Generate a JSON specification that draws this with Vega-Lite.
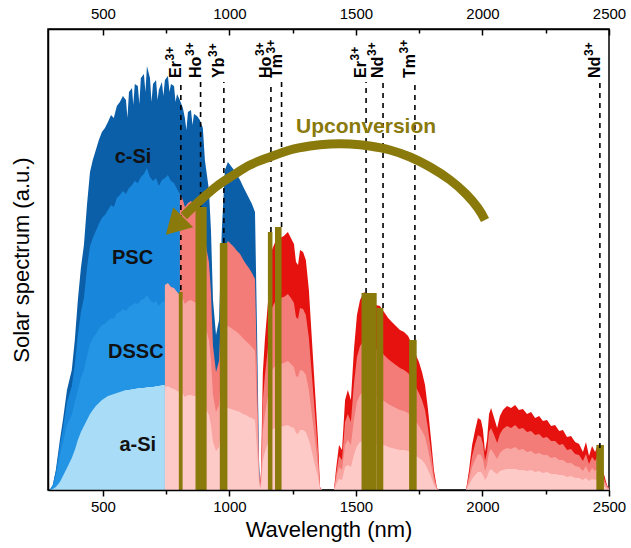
{
"$schema": "https://vega.github.io/schema/vega-lite/v6.json",
"width": 561, "height": 461,
"autosize": {"type": "none"},
"padding": {"left": 48, "top": 29, "right": 22, "bottom": 58},
"config": {"view": {"stroke": "#000", "strokeWidth": 1.5}, "font": "Liberation Sans"},
"datasets": {
"spec": [
{"wl":290,"cSi":0,"PSC":0,"DSSC":0,"aSi":0},
{"wl":302,"cSi":5,"PSC":5,"DSSC":4,"aSi":1},
{"wl":314,"cSi":20,"PSC":18,"DSSC":14,"aSi":3},
{"wl":330,"cSi":50,"PSC":45,"DSSC":35,"aSi":8},
{"wl":342,"cSi":70,"PSC":62,"DSSC":48,"aSi":14},
{"wl":358,"cSi":100,"PSC":88,"DSSC":65,"aSi":22},
{"wl":377,"cSi":120,"PSC":104,"DSSC":75,"aSi":32},
{"wl":389,"cSi":150,"PSC":125,"DSSC":88,"aSi":40},
{"wl":401,"cSi":190,"PSC":155,"DSSC":100,"aSi":50},
{"wl":413,"cSi":222,"PSC":178,"DSSC":112,"aSi":58},
{"wl":425,"cSi":245,"PSC":192,"DSSC":120,"aSi":64},
{"wl":437,"cSi":285,"PSC":222,"DSSC":134,"aSi":70},
{"wl":449,"cSi":318,"PSC":244,"DSSC":146,"aSi":76},
{"wl":460,"cSi":330,"PSC":252,"DSSC":152,"aSi":80},
{"wl":472,"cSi":340,"PSC":259,"DSSC":156,"aSi":84},
{"wl":484,"cSi":350,"PSC":266,"DSSC":161,"aSi":87},
{"wl":496,"cSi":358,"PSC":272,"DSSC":165,"aSi":90},
{"wl":508,"cSi":362,"PSC":275,"DSSC":166,"aSi":92},
{"wl":520,"cSi":368,"PSC":280,"DSSC":169,"aSi":94},
{"wl":532,"cSi":375,"PSC":285,"DSSC":172,"aSi":95},
{"wl":543,"cSi":372,"PSC":283,"DSSC":171,"aSi":96},
{"wl":555,"cSi":384,"PSC":292,"DSSC":177,"aSi":97},
{"wl":567,"cSi":388,"PSC":295,"DSSC":178,"aSi":98},
{"wl":579,"cSi":394,"PSC":299,"DSSC":181,"aSi":99},
{"wl":591,"cSi":390,"PSC":296,"DSSC":179,"aSi":100},
{"wl":603,"cSi":398,"PSC":302,"DSSC":183,"aSi":100},
{"wl":615,"cSi":402,"PSC":305,"DSSC":185,"aSi":101},
{"wl":626,"cSi":406,"PSC":309,"DSSC":187,"aSi":101},
{"wl":638,"cSi":404,"PSC":307,"DSSC":186,"aSi":102},
{"wl":650,"cSi":412,"PSC":313,"DSSC":190,"aSi":102},
{"wl":662,"cSi":416,"PSC":316,"DSSC":191,"aSi":102},
{"wl":674,"cSi":424,"PSC":322,"DSSC":195,"aSi":103},
{"wl":686,"cSi":412,"PSC":313,"DSSC":190,"aSi":103},
{"wl":698,"cSi":406,"PSC":309,"DSSC":187,"aSi":103},
{"wl":710,"cSi":410,"PSC":312,"DSSC":189,"aSi":104},
{"wl":721,"cSi":400,"PSC":304,"DSSC":184,"aSi":104},
{"wl":733,"cSi":408,"PSC":310,"DSSC":188,"aSi":105},
{"wl":745,"cSi":410,"PSC":312,"DSSC":189,"aSi":105,"p1":103,"p2":205},
{"wl":757,"cSi":414,"PSC":315,"p1":104,"p2":207},
{"wl":769,"cSi":406,"PSC":309,"p1":102,"p2":203},
{"wl":781,"cSi":404,"PSC":307,"p1":101,"p2":202},
{"wl":793,"cSi":396,"PSC":301,"p1":99,"p2":198},
{"wl":804,"cSi":390,"PSC":296,"p1":98,"p2":195,"p3":296},
{"wl":816,"cSi":382,"p1":96,"p2":191,"p3":290},
{"wl":824,"cSi":372,"p1":93,"p2":186,"p3":283},
{"wl":836,"cSi":378,"p1":95,"p2":189,"p3":287},
{"wl":848,"cSi":380,"p1":95,"p2":190,"p3":289},
{"wl":860,"cSi":376,"p1":94,"p2":188,"p3":286},
{"wl":872,"cSi":374,"p1":94,"p2":187,"p3":284},
{"wl":883,"cSi":370,"p1":93,"p2":185,"p3":281},
{"wl":895,"cSi":362,"p1":91,"p2":181,"p3":275},
{"wl":903,"cSi":330,"p1":83,"p2":165,"p3":251},
{"wl":911,"cSi":315,"p1":79,"p2":158,"p3":239},
{"wl":919,"cSi":300,"p1":75,"p2":150,"p3":228},
{"wl":927,"cSi":260,"p1":65,"p2":130,"p3":198},
{"wl":935,"cSi":190,"p1":48,"p2":95,"p3":144},
{"wl":947,"cSi":155,"p1":39,"p2":78,"p3":118},
{"wl":959,"cSi":170,"p1":43,"p2":85,"p3":129},
{"wl":970,"cSi":260,"p1":65,"p2":130,"p3":198},
{"wl":982,"cSi":320,"p1":80,"p2":160,"p3":243},
{"wl":994,"cSi":328,"p1":82,"p2":164,"p3":249},
{"wl":1006,"cSi":324,"p1":81,"p2":162,"p3":246},
{"wl":1018,"cSi":320,"p1":80,"p2":160,"p3":243},
{"wl":1030,"cSi":315,"p1":79,"p2":158,"p3":239},
{"wl":1042,"cSi":310,"p1":78,"p2":155,"p3":236},
{"wl":1053,"cSi":304,"p1":76,"p2":152,"p3":231},
{"wl":1065,"cSi":298,"p1":75,"p2":149,"p3":226},
{"wl":1077,"cSi":292,"p1":73,"p2":146,"p3":222},
{"wl":1089,"cSi":286,"p1":72,"p2":143,"p3":217},
{"wl":1101,"cSi":278,"p1":70,"p2":139,"p3":211},
{"wl":1109,"cSi":160,"p1":40,"p2":80,"p3":122},
{"wl":1117,"cSi":30,"p1":8,"p2":15,"p3":23},
{"wl":1121,"cSi":5,"red":5,"p1":1,"p2":3,"p3":4},
{"wl":1125,"red":20,"p1":5,"p2":10,"p3":15},
{"wl":1132,"red":117,"p1":29,"p2":59,"p3":89},
{"wl":1140,"red":150,"p1":38,"p2":75,"p3":114},
{"wl":1152,"red":187,"p1":47,"p2":94,"p3":142},
{"wl":1168,"red":240,"p1":60,"p2":120,"p3":182},
{"wl":1184,"red":250,"p1":63,"p2":125,"p3":190},
{"wl":1200,"red":252,"p1":63,"p2":126,"p3":192},
{"wl":1215,"red":254,"p1":64,"p2":127,"p3":193},
{"wl":1231,"red":258,"p1":65,"p2":129,"p3":196},
{"wl":1243,"red":252,"p1":63,"p2":126,"p3":192},
{"wl":1255,"red":246,"p1":62,"p2":123,"p3":187},
{"wl":1263,"red":228,"p1":57,"p2":114,"p3":173},
{"wl":1271,"red":225,"p1":56,"p2":113,"p3":171},
{"wl":1279,"red":240,"p1":60,"p2":120,"p3":182},
{"wl":1291,"red":238,"p1":60,"p2":119,"p3":181},
{"wl":1302,"red":230,"p1":58,"p2":115,"p3":175},
{"wl":1314,"red":200,"p1":50,"p2":100,"p3":152},
{"wl":1326,"red":150,"p1":38,"p2":75,"p3":114},
{"wl":1338,"red":100,"p1":25,"p2":50,"p3":76},
{"wl":1350,"red":50,"p1":13,"p2":25,"p3":38},
{"wl":1358,"red":3,"p1":1,"p2":2,"p3":2},
{"wl":1366,"red":0,"p1":0,"p2":0,"p3":0},
{"wl":1413,"red":0,"p1":0,"p2":0,"p3":0},
{"wl":1421,"red":20,"p1":5,"p2":10,"p3":15},
{"wl":1433,"red":45,"p1":11,"p2":23,"p3":34},
{"wl":1445,"red":40,"p1":10,"p2":20,"p3":30},
{"wl":1457,"red":90,"p1":23,"p2":45,"p3":68},
{"wl":1468,"red":100,"p1":25,"p2":50,"p3":76},
{"wl":1480,"red":90,"p1":23,"p2":45,"p3":68},
{"wl":1492,"red":140,"p1":35,"p2":70,"p3":106},
{"wl":1504,"red":175,"p1":44,"p2":88,"p3":133},
{"wl":1516,"red":190,"p1":48,"p2":95,"p3":144},
{"wl":1532,"red":198,"p1":50,"p2":99,"p3":150},
{"wl":1548,"red":194,"p1":49,"p2":97,"p3":147},
{"wl":1563,"red":190,"p1":48,"p2":95,"p3":144},
{"wl":1579,"red":185,"p1":46,"p2":93,"p3":141},
{"wl":1595,"red":184,"p1":46,"p2":92,"p3":140},
{"wl":1611,"red":178,"p1":45,"p2":89,"p3":135},
{"wl":1627,"red":172,"p1":43,"p2":86,"p3":131},
{"wl":1642,"red":168,"p1":42,"p2":84,"p3":128},
{"wl":1658,"red":164,"p1":41,"p2":82,"p3":125},
{"wl":1674,"red":160,"p1":40,"p2":80,"p3":122},
{"wl":1690,"red":158,"p1":40,"p2":79,"p3":120},
{"wl":1706,"red":154,"p1":39,"p2":77,"p3":117},
{"wl":1721,"red":146,"p1":37,"p2":73,"p3":111},
{"wl":1737,"red":135,"p1":34,"p2":68,"p3":103},
{"wl":1749,"red":128,"p1":32,"p2":64,"p3":97},
{"wl":1761,"red":118,"p1":30,"p2":59,"p3":90},
{"wl":1773,"red":105,"p1":26,"p2":53,"p3":80},
{"wl":1785,"red":80,"p1":20,"p2":40,"p3":61},
{"wl":1797,"red":50,"p1":13,"p2":25,"p3":38},
{"wl":1808,"red":20,"p1":5,"p2":10,"p3":15},
{"wl":1820,"red":2,"p1":1,"p2":1,"p3":2},
{"wl":1828,"red":0,"p1":0,"p2":0,"p3":0},
{"wl":1935,"red":0,"p1":0,"p2":0,"p3":0},
{"wl":1947,"red":20,"p1":5,"p2":10,"p3":15},
{"wl":1959,"red":45,"p1":11,"p2":23,"p3":34},
{"wl":1971,"red":60,"p1":15,"p2":30,"p3":46},
{"wl":1982,"red":72,"p1":18,"p2":36,"p3":55},
{"wl":1994,"red":70,"p1":18,"p2":35,"p3":53},
{"wl":2002,"red":60,"p1":15,"p2":30,"p3":46},
{"wl":2010,"red":38,"p1":10,"p2":19,"p3":29},
{"wl":2018,"red":50,"p1":13,"p2":25,"p3":38},
{"wl":2026,"red":76,"p1":19,"p2":38,"p3":58},
{"wl":2034,"red":82,"p1":21,"p2":41,"p3":62},
{"wl":2046,"red":72,"p1":18,"p2":36,"p3":55},
{"wl":2058,"red":62,"p1":16,"p2":31,"p3":47},
{"wl":2069,"red":74,"p1":19,"p2":37,"p3":56},
{"wl":2081,"red":80,"p1":20,"p2":40,"p3":61},
{"wl":2097,"red":84,"p1":21,"p2":42,"p3":64},
{"wl":2113,"red":82,"p1":21,"p2":41,"p3":62},
{"wl":2129,"red":85,"p1":21,"p2":43,"p3":65},
{"wl":2144,"red":80,"p1":20,"p2":40,"p3":61},
{"wl":2160,"red":81,"p1":20,"p2":41,"p3":62},
{"wl":2176,"red":76,"p1":19,"p2":38,"p3":58},
{"wl":2192,"red":78,"p1":20,"p2":39,"p3":59},
{"wl":2208,"red":72,"p1":18,"p2":36,"p3":55},
{"wl":2224,"red":74,"p1":19,"p2":37,"p3":56},
{"wl":2239,"red":69,"p1":17,"p2":35,"p3":52},
{"wl":2255,"red":70,"p1":18,"p2":35,"p3":53},
{"wl":2271,"red":64,"p1":16,"p2":32,"p3":49},
{"wl":2287,"red":65,"p1":16,"p2":33,"p3":49},
{"wl":2303,"red":59,"p1":15,"p2":30,"p3":45},
{"wl":2318,"red":60,"p1":15,"p2":30,"p3":46},
{"wl":2334,"red":53,"p1":13,"p2":27,"p3":40},
{"wl":2350,"red":54,"p1":14,"p2":27,"p3":41},
{"wl":2366,"red":48,"p1":12,"p2":24,"p3":36},
{"wl":2382,"red":46,"p1":12,"p2":23,"p3":35},
{"wl":2397,"red":38,"p1":10,"p2":19,"p3":29},
{"wl":2409,"red":48,"p1":12,"p2":24,"p3":36},
{"wl":2421,"red":34,"p1":9,"p2":17,"p3":26},
{"wl":2433,"red":44,"p1":11,"p2":22,"p3":33},
{"wl":2445,"red":38,"p1":10,"p2":19,"p3":29},
{"wl":2457,"red":46,"p1":12,"p2":23,"p3":35},
{"wl":2469,"red":30,"p1":8,"p2":15,"p3":23},
{"wl":2480,"red":16,"p1":4,"p2":8,"p3":12},
{"wl":2492,"red":5,"p1":1,"p2":3,"p3":4},
{"wl":2500,"red":2,"p1":1,"p2":1,"p3":2},
{"wl":597,"cSi":372},
{"wl":620,"cSi":385},
{"wl":644,"cSi":386},
{"wl":668,"cSi":398},
{"wl":692,"cSi":388},
{"wl":716,"cSi":390},
{"wl":739,"cSi":394},
{"wl":763,"cSi":398},
{"wl":787,"cSi":388},
{"wl":830,"cSi":360},
{"wl":854,"cSi":365}
],
"bands": [
{"a":800,"b":815,"top":198},
{"a":866,"b":910,"top":283},
{"a":962,"b":992,"top":247},
{"a":1152,"b":1170,"top":258},
{"a":1180,"b":1206,"top":263},
{"a":1522,"b":1582,"top":197},
{"a":1582,"b":1608,"top":182},
{"a":1710,"b":1740,"top":150},
{"a":2450,"b":2480,"top":45}
],
"ions": [
{"wl":808,"ion":"Er","end":200},
{"wl":886,"ion":"Ho","end":283},
{"wl":978,"ion":"Yb","end":247},
{"wl":1164,"ion":"Ho","end":258},
{"wl":1206,"ion":"Tm","end":263},
{"wl":1540,"ion":"Er","end":197},
{"wl":1607,"ion":"Nd","end":182},
{"wl":1733,"ion":"Tm","end":150},
{"wl":2464,"ion":"Nd","end":42}
],
"cells": [
{"wl":619,"h":333,"t":"c-Si"},
{"wl":617,"h":232,"t":"PSC"},
{"wl":630,"h":138,"t":"DSSC"},
{"wl":638,"h":45,"t":"a-Si"}
],
"note": [{"wl":1540,"h":363,"t":"Upconversion"}],
"arrow": [
{"ord":1,"wl":2010,"h":270},
{"ord":2,"wl":1982,"h":282},
{"ord":3,"wl":1935,"h":296},
{"ord":4,"wl":1872,"h":310},
{"ord":5,"wl":1793,"h":323},
{"ord":6,"wl":1714,"h":333},
{"ord":7,"wl":1634,"h":340},
{"ord":8,"wl":1555,"h":344},
{"ord":9,"wl":1476,"h":346},
{"ord":10,"wl":1397,"h":346},
{"ord":11,"wl":1318,"h":344},
{"ord":12,"wl":1239,"h":340},
{"ord":13,"wl":1160,"h":333},
{"ord":14,"wl":1081,"h":325},
{"ord":15,"wl":1010,"h":314},
{"ord":16,"wl":951,"h":304},
{"ord":17,"wl":895,"h":292},
{"ord":18,"wl":852,"h":282},
{"ord":19,"wl":820,"h":274}
],
"head": [{"wl":783,"h":264}]
},
"resolve": {"axis": {"x": "independent", "y": "independent"}},
"layer": [
{"data": {"name": "spec"}, "transform": [{"filter": {"field": "cSi", "valid": true}}],
 "mark": {"type": "area", "color": "#0b5ea8", "interpolate": "linear"},
 "encoding": {
  "x": {"field": "wl", "type": "quantitative", "scale": {"domain": [283, 2500], "nice": false, "zero": false},
   "axis": {"orient": "bottom", "values": [500, 1000, 1500, 2000, 2500], "format": "d", "title": "Wavelength (nm)", "titleFontSize": 22, "titleFontWeight": "normal", "titleColor": "#000", "titlePadding": 5, "labelFontSize": 15, "labelColor": "#000", "labelPadding": 3, "labelFlush": false, "tickSize": 6, "tickWidth": 1.5, "tickColor": "#000", "domain": true, "domainColor": "#000", "domainWidth": 1.5, "grid": false, "zindex": 1}},
  "y": {"field": "cSi", "type": "quantitative", "stack": null, "scale": {"domain": [0, 461], "nice": false, "zero": false}, "axis": null}}},
{"data": {"name": "spec"}, "transform": [{"filter": {"field": "PSC", "valid": true}}],
 "mark": {"type": "area", "color": "#1886da"},
 "encoding": {
  "x": {"field": "wl", "type": "quantitative", "scale": {"domain": [283, 2500], "nice": false, "zero": false},
   "axis": {"orient": "bottom", "values": [750, 1250, 1750, 2250], "labels": false, "title": null, "tickSize": 4, "tickWidth": 1.5, "tickColor": "#000", "domain": false, "grid": false, "zindex": 1}},
  "y": {"field": "PSC", "type": "quantitative", "stack": null, "scale": {"domain": [0, 461], "nice": false, "zero": false}, "axis": null}}},
{"data": {"name": "spec"}, "transform": [{"filter": {"field": "DSSC", "valid": true}}],
 "mark": {"type": "area", "color": "#2495e4"},
 "encoding": {
  "x": {"field": "wl", "type": "quantitative", "scale": {"domain": [283, 2500], "nice": false, "zero": false},
   "axis": {"orient": "top", "values": [500, 1000, 1500, 2000, 2500], "format": "d", "ticks": false, "labelFontSize": 15, "labelColor": "#000", "labelPadding": 8, "labelFlush": false, "title": null, "domain": true, "domainColor": "#000", "domainWidth": 1.5, "grid": false, "zindex": 1}},
  "y": {"field": "DSSC", "type": "quantitative", "stack": null, "scale": {"domain": [0, 461], "nice": false, "zero": false}, "axis": null}}},
{"data": {"name": "spec"}, "transform": [{"filter": {"field": "aSi", "valid": true}}],
 "mark": {"type": "area", "color": "#a8dcf7"},
 "encoding": {
  "x": {"field": "wl", "type": "quantitative", "scale": {"domain": [283, 2500], "nice": false, "zero": false},
   "axis": {"orient": "top", "offset": -6, "values": [500, 1000, 1500, 2000, 2500], "labels": false, "title": null, "tickSize": 6, "tickWidth": 1.5, "tickColor": "#000", "domain": false, "grid": false, "zindex": 1}},
  "y": {"field": "aSi", "type": "quantitative", "stack": null, "scale": {"domain": [0, 461], "nice": false, "zero": false}, "axis": null}}},
{"data": {"name": "spec"}, "transform": [{"filter": {"field": "red", "valid": true}}],
 "mark": {"type": "area", "color": "#e5120f"},
 "encoding": {
  "x": {"field": "wl", "type": "quantitative", "scale": {"domain": [283, 2500], "nice": false, "zero": false},
   "axis": {"orient": "top", "offset": -4, "values": [750, 1250, 1750, 2250], "labels": false, "title": null, "tickSize": 4, "tickWidth": 1.5, "tickColor": "#000", "domain": false, "grid": false, "zindex": 1}},
  "y": {"field": "red", "type": "quantitative", "stack": null, "scale": {"domain": [0, 461], "nice": false, "zero": false}, "axis": null}}},
{"data": {"name": "spec"}, "transform": [{"filter": {"field": "p3", "valid": true}}],
 "mark": {"type": "area", "color": "#f37c78"},
 "encoding": {
  "x": {"field": "wl", "type": "quantitative", "scale": {"domain": [283, 2500], "nice": false, "zero": false}, "axis": null},
  "y": {"field": "p3", "type": "quantitative", "stack": null, "scale": {"domain": [0, 461], "nice": false, "zero": false},
   "axis": {"orient": "left", "title": "Solar spectrum (a.u.)", "labels": false, "ticks": false, "domain": true, "domainColor": "#000", "domainWidth": 1.5, "grid": false, "titleFontSize": 22, "titleFontWeight": "normal", "titleColor": "#000", "titlePadding": 15, "zindex": 1}}}},
{"data": {"name": "spec"}, "transform": [{"filter": {"field": "p2", "valid": true}}],
 "mark": {"type": "area", "color": "#f9a6a3"},
 "encoding": {
  "x": {"field": "wl", "type": "quantitative", "scale": {"domain": [283, 2500], "nice": false, "zero": false}, "axis": null},
  "y": {"field": "p2", "type": "quantitative", "stack": null, "scale": {"domain": [0, 461], "nice": false, "zero": false}, "axis": null}}},
{"data": {"name": "spec"}, "transform": [{"filter": {"field": "p1", "valid": true}}],
 "mark": {"type": "area", "color": "#fdcac8"},
 "encoding": {
  "x": {"field": "wl", "type": "quantitative", "scale": {"domain": [283, 2500], "nice": false, "zero": false}, "axis": null},
  "y": {"field": "p1", "type": "quantitative", "stack": null, "scale": {"domain": [0, 461], "nice": false, "zero": false}, "axis": null}}},
{"data": {"name": "bands"},
 "mark": {"type": "rect", "color": "#8a7a0c"},
 "encoding": {
  "x": {"field": "a", "type": "quantitative", "scale": {"domain": [283, 2500], "nice": false, "zero": false}, "axis": null},
  "x2": {"field": "b"},
  "y": {"field": "top", "type": "quantitative", "scale": {"domain": [0, 461], "nice": false, "zero": false}, "axis": null},
  "y2": {"datum": 0}}},
{"data": {"name": "ions"},
 "mark": {"type": "rule", "color": "#000", "strokeWidth": 1.6, "strokeDash": [5, 5]},
 "encoding": {
  "x": {"field": "wl", "type": "quantitative", "scale": {"domain": [283, 2500], "nice": false, "zero": false}, "axis": null},
  "y": {"field": "end", "type": "quantitative", "scale": {"domain": [0, 461], "nice": false, "zero": false}, "axis": null},
  "y2": {"datum": 408}}},
{"data": {"name": "ions"},
 "mark": {"type": "text", "angle": 270, "align": "left", "baseline": "alphabetic", "fontSize": 16, "fontWeight": "bold", "font": "Liberation Sans", "color": "#000"},
 "encoding": {
  "x": {"field": "wl", "type": "quantitative", "scale": {"domain": [283, 2500], "nice": false, "zero": false}, "axis": null},
  "y": {"datum": 412, "type": "quantitative", "scale": {"domain": [0, 461], "nice": false, "zero": false}, "axis": null},
  "text": {"field": "ion"}}},
{"data": {"name": "ions"}, "transform": [{"filter": {"field": "ion", "equal": "Er"}}],
 "mark": {"type": "text", "angle": 270, "align": "left", "baseline": "alphabetic", "fontSize": 12, "fontWeight": "bold", "font": "Liberation Sans", "color": "#000", "text": "3+", "dx": 17.5, "dy": -7},
 "encoding": {
  "x": {"field": "wl", "type": "quantitative", "scale": {"domain": [283, 2500], "nice": false, "zero": false}, "axis": null},
  "y": {"datum": 412, "type": "quantitative", "scale": {"domain": [0, 461], "nice": false, "zero": false}, "axis": null}}},
{"data": {"name": "ions"}, "transform": [{"filter": {"field": "ion", "oneOf": ["Ho", "Nd"]}}],
 "mark": {"type": "text", "angle": 270, "align": "left", "baseline": "alphabetic", "fontSize": 12, "fontWeight": "bold", "font": "Liberation Sans", "color": "#000", "text": "3+", "dx": 22, "dy": -7},
 "encoding": {
  "x": {"field": "wl", "type": "quantitative", "scale": {"domain": [283, 2500], "nice": false, "zero": false}, "axis": null},
  "y": {"datum": 412, "type": "quantitative", "scale": {"domain": [0, 461], "nice": false, "zero": false}, "axis": null}}},
{"data": {"name": "ions"}, "transform": [{"filter": {"field": "ion", "equal": "Yb"}}],
 "mark": {"type": "text", "angle": 270, "align": "left", "baseline": "alphabetic", "fontSize": 12, "fontWeight": "bold", "font": "Liberation Sans", "color": "#000", "text": "3+", "dx": 21, "dy": -7},
 "encoding": {
  "x": {"field": "wl", "type": "quantitative", "scale": {"domain": [283, 2500], "nice": false, "zero": false}, "axis": null},
  "y": {"datum": 412, "type": "quantitative", "scale": {"domain": [0, 461], "nice": false, "zero": false}, "axis": null}}},
{"data": {"name": "ions"}, "transform": [{"filter": {"field": "ion", "equal": "Tm"}}],
 "mark": {"type": "text", "angle": 270, "align": "left", "baseline": "alphabetic", "fontSize": 12, "fontWeight": "bold", "font": "Liberation Sans", "color": "#000", "text": "3+", "dx": 24.5, "dy": -7},
 "encoding": {
  "x": {"field": "wl", "type": "quantitative", "scale": {"domain": [283, 2500], "nice": false, "zero": false}, "axis": null},
  "y": {"datum": 412, "type": "quantitative", "scale": {"domain": [0, 461], "nice": false, "zero": false}, "axis": null}}},
{"data": {"name": "cells"},
 "mark": {"type": "text", "align": "center", "baseline": "middle", "fontSize": 20, "fontWeight": "bold", "font": "Liberation Sans", "color": "#111"},
 "encoding": {
  "x": {"field": "wl", "type": "quantitative", "scale": {"domain": [283, 2500], "nice": false, "zero": false}, "axis": null},
  "y": {"field": "h", "type": "quantitative", "scale": {"domain": [0, 461], "nice": false, "zero": false}, "axis": null},
  "text": {"field": "t"}}},
{"data": {"name": "note"},
 "mark": {"type": "text", "align": "center", "baseline": "middle", "fontSize": 21, "fontWeight": "bold", "font": "Liberation Sans", "color": "#8a7a0c"},
 "encoding": {
  "x": {"field": "wl", "type": "quantitative", "scale": {"domain": [283, 2500], "nice": false, "zero": false}, "axis": null},
  "y": {"field": "h", "type": "quantitative", "scale": {"domain": [0, 461], "nice": false, "zero": false}, "axis": null},
  "text": {"field": "t"}}},
{"data": {"name": "arrow"},
 "mark": {"type": "line", "color": "#8a7a0c", "strokeWidth": 9, "strokeCap": "butt", "interpolate": "cardinal"},
 "encoding": {
  "x": {"field": "wl", "type": "quantitative", "scale": {"domain": [283, 2500], "nice": false, "zero": false}, "axis": null},
  "y": {"field": "h", "type": "quantitative", "scale": {"domain": [0, 461], "nice": false, "zero": false}, "axis": null},
  "order": {"field": "ord", "type": "quantitative"}}},
{"data": {"name": "head"},
 "mark": {"type": "point", "shape": "triangle-up", "filled": true, "opacity": 1, "color": "#8a7a0c", "size": 800, "angle": 225},
 "encoding": {
  "x": {"field": "wl", "type": "quantitative", "scale": {"domain": [283, 2500], "nice": false, "zero": false}, "axis": null},
  "y": {"field": "h", "type": "quantitative", "scale": {"domain": [0, 461], "nice": false, "zero": false}, "axis": null}}}
]
}
